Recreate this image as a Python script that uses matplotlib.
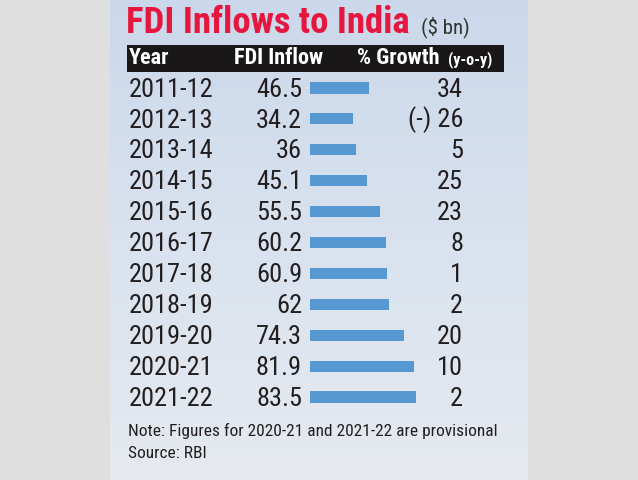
import numpy as np
import matplotlib.pyplot as plt
from matplotlib.colors import LinearSegmentedColormap
from matplotlib.patches import Rectangle

# data
years = ["2011-12", "2012-13", "2013-14", "2014-15", "2015-16", "2016-17",
         "2017-18", "2018-19", "2019-20", "2020-21", "2021-22"]
fdi = [46.5, 34.2, 36, 45.1, 55.5, 60.2, 60.9, 62, 74.3, 81.9, 83.5]
growth = ["34", "(-) 26", "5", "25", "23", "8", "1", "2", "20", "10", "2"]

title = "FDI Inflows to India"
unit = "($ bn)"
note = "Note: Figures for 2020-21 and 2021-22 are provisional"
source = "Source: RBI"

FONT = ["Liberation Sans Narrow", "Roboto Condensed", "Liberation Sans", "DejaVu Sans"]
INK = "#231f20"
RED = "#e5173f"
BLUE = "#5598d2"

fig = plt.figure(figsize=(6.38, 4.8), dpi=100)
fig.patch.set_facecolor("#dfdfdf")

# background panel in pixel coords
bg = fig.add_axes([0, 0, 1, 1])
cmap = LinearSegmentedColormap.from_list("panel", ["#cbd8eb", "#d9e2ee", "#e6eaf0"])
grad = np.linspace(0, 1, 256).reshape(-1, 1)
bg.imshow(grad, extent=(110, 528, 480, 0), cmap=cmap, aspect="auto", zorder=0)
bg.set_xlim(0, 638)
bg.set_ylim(480, 0)
bg.axis("off")

bg.text(126, 33, title, color=RED, fontsize=26.5, fontweight="bold", family=FONT, va="baseline")
bg.text(421, 33, unit, color="#333333", fontsize=15, family=FONT, va="baseline")

# header bar
bg.add_patch(Rectangle((127, 45), 377, 27, facecolor="#1a1718", edgecolor="none", zorder=2))
hdr = dict(color="white", fontweight="bold", family=FONT, va="baseline", zorder=3)
bg.text(129, 64, "Year", fontsize=16, **hdr)
bg.text(323, 64, "FDI Inflow", fontsize=16, ha="right", **hdr)
bg.text(357, 64, "% Growth", fontsize=16, **hdr)
bg.text(448, 64, "(y-o-y)", fontsize=11.5, **hdr)

bg.text(128, 436, note, color=INK, fontsize=12.5, family=FONT, va="baseline")
bg.text(128, 458, source, color=INK, fontsize=12.5, family=FONT, va="baseline")

# table rows: bars start at x=0, 1.27 px per $bn
px = 1.27
ax = fig.add_axes([110 / 638, 1 - 412.5 / 480, 418 / 638, 340 / 480])
ax.set_xlim(-(310 - 110) / px, (528 - 310) / px)
ax.set_ylim(len(years) - 0.5, -0.5)
ax.axis("off")
ax.patch.set_alpha(0)

y = np.arange(len(years))
ax.barh(y, fdi, height=0.36, color=BLUE, left=0)

x_year = (129 - 310) / px
x_val = (302 - 310) / px
x_gr = (463 - 310) / px
for i in range(len(years)):
    ax.text(x_year, i + 0.28, years[i], fontsize=19, color=INK, family=FONT, va="baseline")
    ax.text(x_val, i + 0.28, f"{fdi[i]:g}", fontsize=19, color=INK, family=FONT,
            va="baseline", ha="right")
    ax.text(x_gr, i + 0.28, growth[i], fontsize=19, color=INK, family=FONT,
            va="baseline", ha="right")

fig.savefig("out.png", dpi=100, facecolor=fig.get_facecolor())
